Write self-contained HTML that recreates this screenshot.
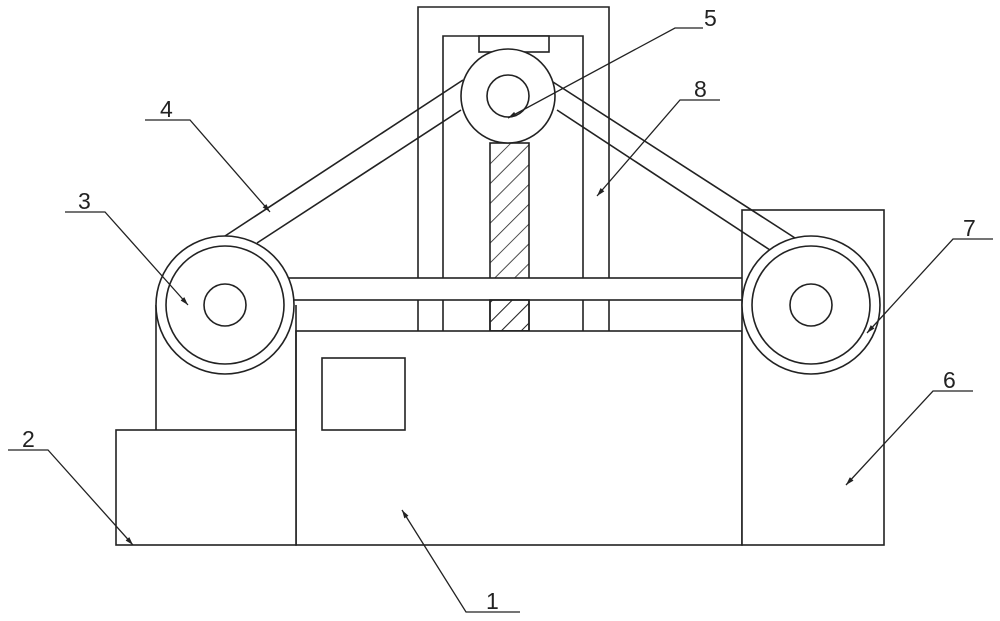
<!DOCTYPE html>
<html><head><style>html,body{margin:0;padding:0;background:#fff}svg{display:block}</style></head><body>
<svg width="1000" height="621" viewBox="0 0 1000 621" xmlns="http://www.w3.org/2000/svg">
<defs>
<pattern id="h" width="14" height="14" patternUnits="userSpaceOnUse" patternTransform="rotate(45)">
<line x1="0" y1="0" x2="0" y2="14" stroke="#222" stroke-width="1.6"/>
</pattern>
<marker id="a" viewBox="0 0 10 6" refX="10" refY="3" markerWidth="9" markerHeight="5" orient="auto" markerUnits="userSpaceOnUse">
<path d="M0 0L10 3L0 6z" fill="#222"/>
</marker>
</defs>
<g fill="none" stroke="#222" stroke-width="1.6">
<path d="M418 331V7H609V331"/>
<path d="M443 331V36H583V331"/>
<rect x="479" y="36" width="70" height="16" fill="#fff"/>
<rect x="490" y="143" width="39" height="188" fill="url(#h)"/>
<rect x="288" y="278" width="460" height="22" fill="#fff"/>
<rect x="490" y="300" width="39" height="31" fill="url(#h)"/>
<rect x="296" y="331" width="446" height="214" fill="#fff"/>
<rect x="322" y="358" width="83" height="72"/>
<path d="M156 430V305M296 430V305"/>
<rect x="116" y="430" width="180" height="115" fill="#fff"/>
<rect x="742" y="210" width="142" height="335" fill="#fff"/>
<line x1="225" y1="236" x2="463" y2="80"/>
<line x1="257" y1="243" x2="461" y2="110"/>
<line x1="553" y1="82" x2="795" y2="238"/>
<line x1="557" y1="110" x2="770" y2="250"/>
<circle cx="225" cy="305" r="69" fill="#fff"/>
<circle cx="225" cy="305" r="59"/>
<circle cx="225" cy="305" r="21"/>
<circle cx="811" cy="305" r="69" fill="#fff"/>
<circle cx="811" cy="305" r="59"/>
<circle cx="811" cy="305" r="21"/>
<circle cx="508" cy="96" r="47" fill="#fff"/>
<circle cx="508" cy="96" r="21"/>
<g stroke-width="1.3" marker-end="url(#a)">
<path d="M520 612H466L402 510"/>
<path d="M8 450H48L133 545"/>
<path d="M65 212H105L188 305"/>
<path d="M145 120H190L270 212"/>
<path d="M703 28H675L508 118"/>
<path d="M720 100H680L597 196"/>
<path d="M993 239H953L867 333"/>
<path d="M973 391H933L846 485"/>
</g>
</g>
<g font-family="Liberation Sans, sans-serif" font-size="23" fill="#222">
<text x="486" y="609">1</text>
<text x="22" y="447">2</text>
<text x="78" y="209">3</text>
<text x="160" y="117">4</text>
<text x="704" y="26">5</text>
<text x="943" y="388">6</text>
<text x="963" y="236">7</text>
<text x="694" y="97">8</text>
</g>
</svg>
</body></html>
